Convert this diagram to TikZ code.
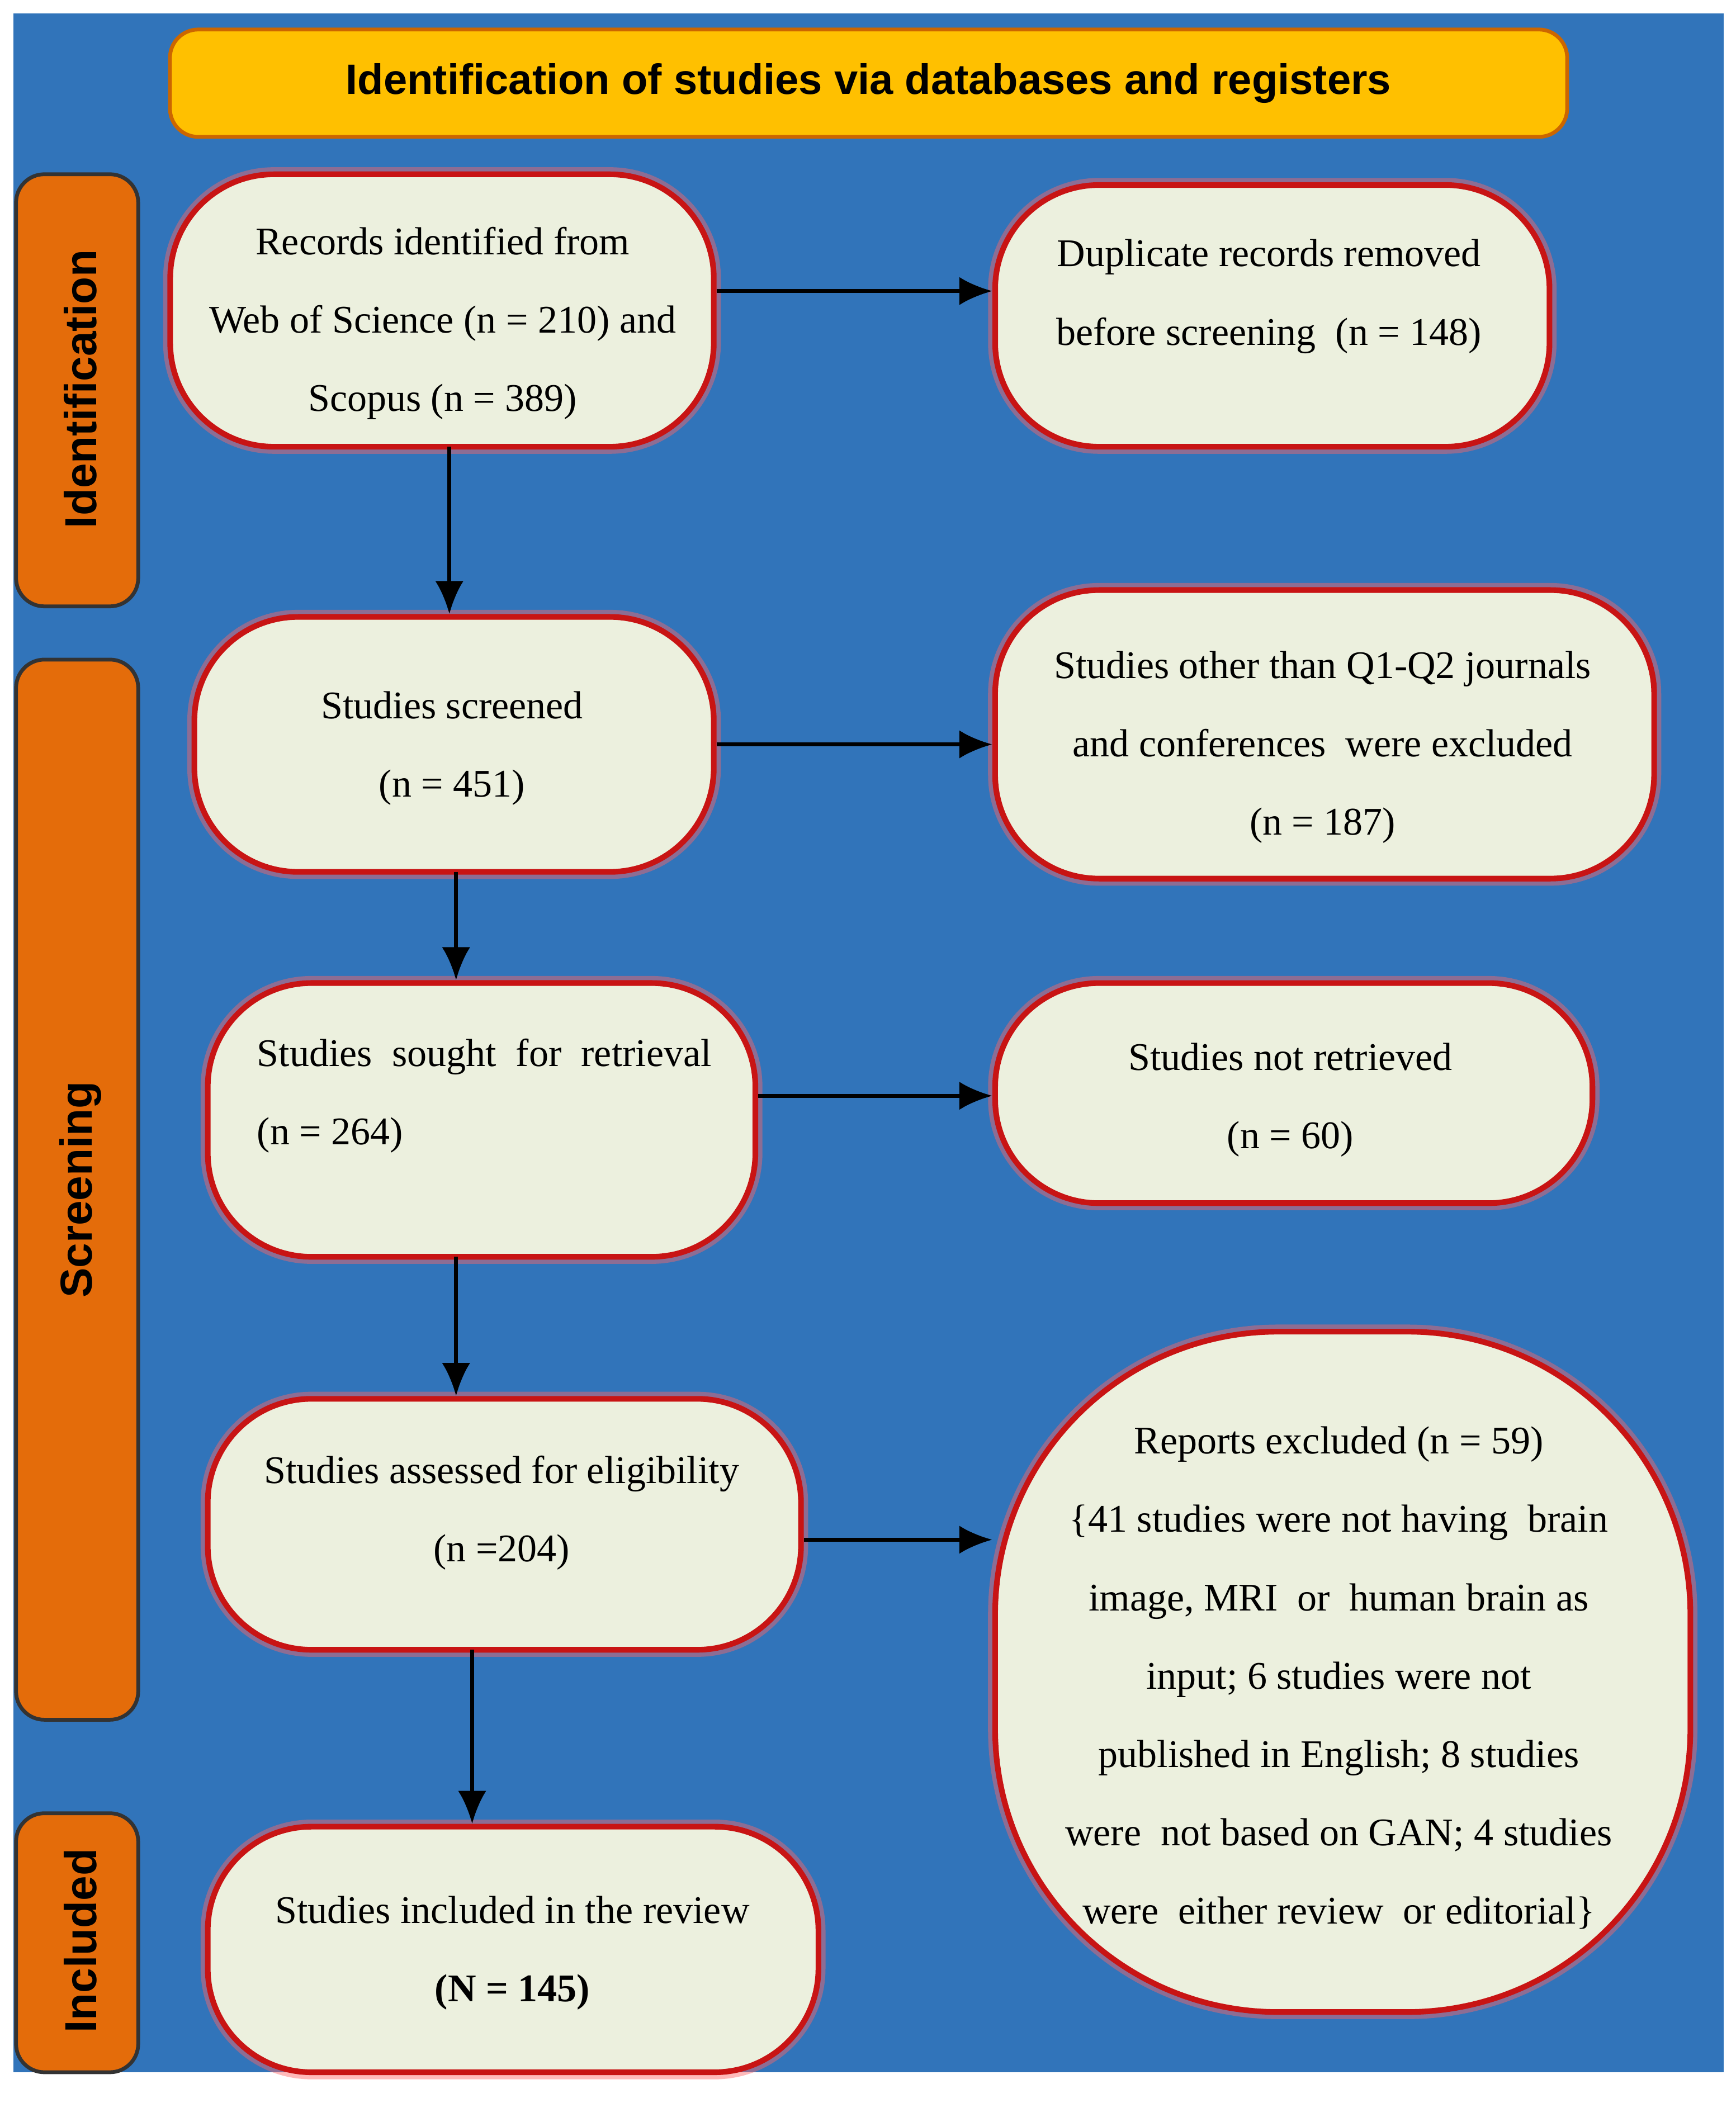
\documentclass[tikz,border=0pt]{standalone}
\usepackage{fontspec}
\setmainfont{Liberation Serif}
\newfontfamily\hsans{Liberation Sans}
\usetikzlibrary{arrows.meta}
\definecolor{bgblue}{RGB}{49,116,186}
\definecolor{boxfill}{RGB}{236,240,222}
\definecolor{boxred}{RGB}{200,20,20}
\definecolor{sideorange}{RGB}{228,108,10}
\definecolor{hdr}{RGB}{255,192,0}
\begin{document}
\begin{tikzpicture}[x=0.01cm,y=-0.01cm,
  box/.style={draw=boxred,line width=1.2pt,fill=boxfill,rounded corners=22pt,
    preaction={draw=red!60,line width=3pt,opacity=0.45}},
  txt/.style={font=\fontsize{8.3}{16.6}\selectfont,align=center,inner sep=0pt},
  side/.style={draw=black!80,line width=0.8pt,fill=sideorange,rounded corners=6pt},
  sidetxt/.style={font=\hsans\bfseries\fontsize{9.5}{11}\selectfont,rotate=90},
  arr/.style={-{Latex[length=7pt,width=6pt]},line width=0.8pt,black}]
\useasboundingbox (0,0) rectangle (1294,1568);
\fill[white] (0,0) rectangle (1294,1568);
\fill[bgblue] (10,10) rectangle (1285,1545);
% header
\node[draw=orange!80!black,line width=0.8pt,fill=hdr,rounded corners=6pt,minimum width=10.41cm,minimum height=0.8cm,
  font=\hsans\bfseries\fontsize{9}{11}\selectfont] (hdr) at (647.5,62) {Identification of studies via databases and registers};
% side bars
\node[side,minimum width=3.22cm,minimum height=0.91cm,rotate=90] (s1) at (57.5,291) {};
\node[sidetxt] (s1t) at (60,290) {Identification};
\node[side,minimum width=7.9cm,minimum height=0.91cm,rotate=90] (s2) at (57.5,887) {};
\node[sidetxt] (s2t) at (60,887) {Screening};
\node[side,minimum width=1.93cm,minimum height=0.91cm,rotate=90] (s3) at (57.5,1448.5) {};
\node[sidetxt] (s3t) at (60,1447) {Included};
% boxes
\node[box,minimum width=4.05cm,minimum height=2.03cm] (A) at (329.5,231.5) {};
\node[box,minimum width=4.13cm,minimum height=1.95cm] (B) at (948.5,235.5) {};
\node[box,minimum width=3.87cm,minimum height=1.90cm] (C) at (338.5,555) {};
\node[box,minimum width=4.91cm,minimum height=2.15cm] (D) at (987.5,547.5) {};
\node[box,minimum width=4.08cm,minimum height=2.04cm] (E) at (359,835) {};
\node[box,minimum width=4.45cm,minimum height=1.64cm] (F) at (964.5,815) {};
\node[box,minimum width=4.42cm,minimum height=1.87cm] (G) at (376,1136.5) {};
\node[box,minimum width=5.18cm,minimum height=5.07cm,rounded corners=60pt] (H) at (1001,1246.5) {};
\node[box,minimum width=4.55cm,minimum height=1.83cm] (I) at (382.5,1453.5) {};
% texts
\node[txt] (At) at (330,241) {Records identified from\\Web of Science (n = 210) and\\Scopus (n = 389)};
\node[txt] (Bt) at (946,221) {Duplicate records removed\\before screening\ \ (n = 148)};
\node[txt] (Ct) at (337,558) {Studies screened\\(n = 451)};
\node[txt] (Dt) at (986,557) {Studies other than Q1-Q2 journals\\and conferences\ \ were excluded\\(n = 187)};
\node[txt,align=left,anchor=west] (Et) at (191,817) {Studies\ \ sought\ \ for\ \ retrieval\\(n = 264)};
\node[txt] (Ft) at (962,820) {Studies not retrieved\\(n = 60)};
\node[txt] (Gt) at (374,1128) {Studies assessed for eligibility\\(n =204)};
\node[txt] (Ht) at (998,1251) {Reports excluded (n = 59)\\\{41 studies were not having\ \ brain\\image, MRI\ \ or\ \ human brain as\\input; 6 studies were not\\published in English; 8 studies\\were\ \ not based on GAN; 4 studies\\were\ \ either review\ \ or editorial\}};
\node[txt] (It) at (382,1456) {Studies included in the review\\\textbf{(N = 145)}};
% arrows
\draw[arr] (A.east |- 0,217) -- (B.west |- 0,217);
\draw[arr] (335,333) -- (C.north -| 335,0);
\draw[arr] (C.east |- 0,555) -- (D.west |- 0,555);
\draw[arr] (340,650) -- (E.north -| 340,0);
\draw[arr] (E.east |- 0,817) -- (F.west |- 0,817);
\draw[arr] (340,937) -- (G.north -| 340,0);
\draw[arr] (G.east |- 0,1148) -- (H.west |- 0,1148);
\draw[arr] (352,1230) -- (I.north -| 352,0);
\end{tikzpicture}
\end{document}
